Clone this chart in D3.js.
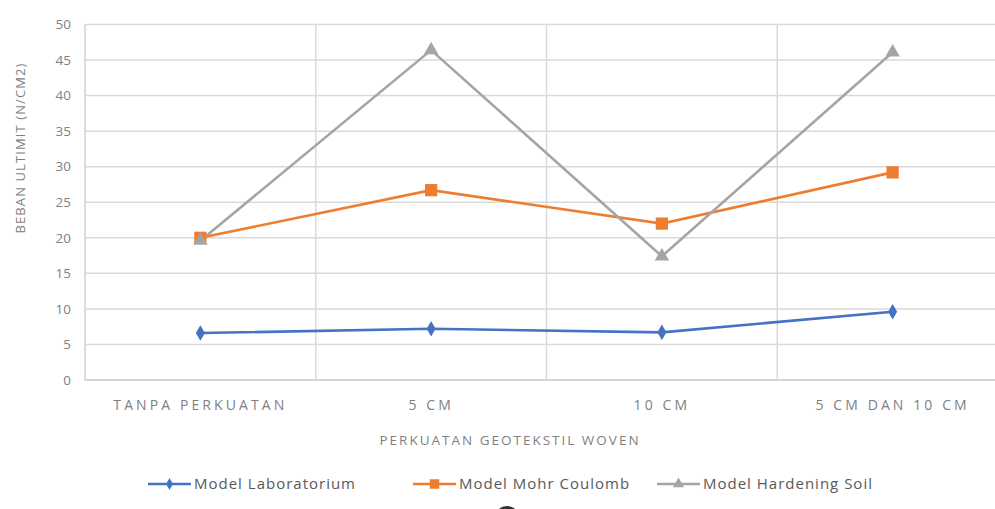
<!DOCTYPE html>
<html><head><meta charset="utf-8">
<script src="https://cdn.jsdelivr.net/npm/d3@7"></script>
<style>body{margin:0;background:#fff}svg{display:block}</style>
</head><body>
<svg id="c" width="995" height="509"></svg>
<script>
const categories = ["TANPA PERKUATAN", "5 CM", "10 CM", "5 CM DAN 10 CM"];
const lab = [6.6, 7.2, 6.7, 9.6];
const mohr = [20.0, 26.7, 22.0, 29.2];
const hardening = [19.6, 46.4, 17.4, 46.1];
const yTicks = [0, 5, 10, 15, 20, 25, 30, 35, 40, 45, 50];
const seriesNames = ["Model Laboratorium", "Model Mohr Coulomb", "Model Hardening Soil"];
const colors = ["#4472c4", "#ed7d31", "#a5a5a5"];
const symbols = ["diamond", "square", "triangle"];

const svg = d3.select("#c");
const L = 85, R = 1008, T = 24.5, B = 380;
const x = d3.scaleBand().domain(categories).range([L, R]);
const y = d3.scaleLinear().domain([0, 50]).range([B, T]);
const font = "'Open Sans', 'Liberation Sans', sans-serif";
const textCol = "#7f7f7f";

// horizontal gridlines
svg.append("g").selectAll("line").data(yTicks).join("line")
  .attr("x1", L).attr("x2", R).attr("y1", d => y(d)).attr("y2", d => y(d))
  .attr("stroke", "#d9d9d9").attr("stroke-width", 1.5);
// vertical gridlines
svg.append("g").selectAll("line").data(categories.slice(1)).join("line")
  .attr("x1", d => x(d)).attr("x2", d => x(d)).attr("y1", T).attr("y2", B)
  .attr("stroke", "#d9d9d9").attr("stroke-width", 1.5);
// axes lines
svg.append("line").attr("x1", L).attr("x2", L).attr("y1", T).attr("y2", B).attr("stroke", "#d0d0d0").attr("stroke-width", 1.5);
svg.append("line").attr("x1", L).attr("x2", R).attr("y1", B).attr("y2", B).attr("stroke", "#d0d0d0").attr("stroke-width", 1.5);

// y tick labels
svg.append("g").selectAll("text").data(yTicks).join("text")
  .attr("x", 71).attr("y", d => y(d)).attr("dy", "0.35em")
  .attr("text-anchor", "end").attr("font-family", font).attr("font-size", 13.5)
  .attr("fill", textCol).text(d => d);

// x labels
svg.append("g").selectAll("text").data(categories).join("text")
  .attr("x", d => x(d) + x.bandwidth() / 2).attr("y", 410)
  .attr("text-anchor", "middle").attr("font-family", font).attr("font-size", 14)
  .attr("letter-spacing", "3.1px")
  .attr("fill", textCol).text(d => d);

// axis titles
svg.append("text").attr("x", 510).attr("y", 445).attr("text-anchor", "middle")
  .attr("font-family", font).attr("font-size", 13.5).attr("fill", textCol).attr("letter-spacing", "2px")
  .text("PERKUATAN GEOTEKSTIL WOVEN");
svg.append("text").attr("transform", "translate(25,148) rotate(-90)").attr("text-anchor", "middle")
  .attr("font-family", font).attr("font-size", 13).attr("fill", textCol).attr("letter-spacing", "1.1px")
  .text("BEBAN ULTIMIT (N/CM2)");

const allSeries = [lab, mohr, hardening];
const line = d3.line().x((d, i) => x(categories[i]) + x.bandwidth() / 2).y(d => y(d));
const symType = {diamond: d3.symbolDiamond, square: d3.symbolSquare, triangle: d3.symbolTriangle};
const symSize = {diamond: 70, square: 150, triangle: 90};

allSeries.forEach((s, k) => {
  svg.append("path").datum(s).attr("d", line).attr("fill", "none")
    .attr("stroke", colors[k]).attr("stroke-width", 2.6);
});
allSeries.forEach((s, k) => {
  svg.append("g").selectAll("path").data(s).join("path")
    .attr("transform", (d, i) => `translate(${x(categories[i]) + x.bandwidth() / 2},${y(d)})`)
    .attr("d", d3.symbol().type(symType[symbols[k]]).size(symSize[symbols[k]]))
    .attr("fill", colors[k]);
});

// legend
const legX = [148, 413, 657];
seriesNames.forEach((n, k) => {
  const g = svg.append("g").attr("transform", `translate(${legX[k]},484)`);
  g.append("line").attr("x1", 0).attr("x2", 43).attr("stroke", colors[k]).attr("stroke-width", 2.5);
  g.append("path").attr("transform", "translate(21.5,0)")
    .attr("d", d3.symbol().type(symType[symbols[k]]).size(symSize[symbols[k]] * 0.6)).attr("fill", colors[k]);
  g.append("text").attr("x", 46).attr("dy", "0.35em").attr("font-family", font).attr("font-size", 15)
    .attr("letter-spacing", "1px")
    .attr("fill", "#595959").text(n);
});

// partial dark blob at bottom
svg.append("ellipse").attr("cx", 507).attr("cy", 517).attr("rx", 12).attr("ry", 11).attr("fill", "#333");
</script>
</body></html>
